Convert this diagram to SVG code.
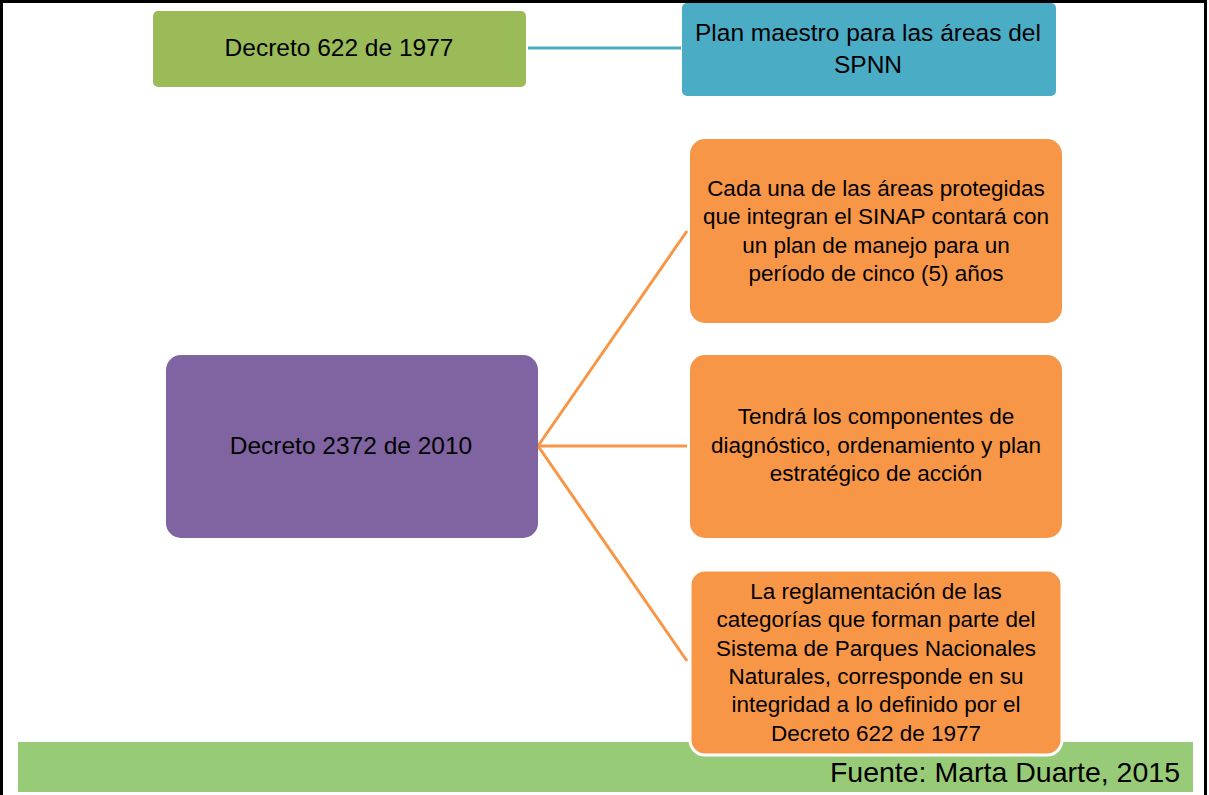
<svg xmlns="http://www.w3.org/2000/svg" width="1209" height="795" viewBox="0 0 1209 795">
<style>
text{font-family:"Liberation Sans",Arial,sans-serif;fill:#000;text-anchor:middle;font-size:22.5px}
.big{font-size:24.5px}
.con{stroke:#F79646;stroke-width:3;fill:none}
.orange{fill:#F79646}
</style>
<rect x="0" y="0" width="1209" height="795" fill="#fff"/>
<rect x="1.5" y="1.5" width="1204" height="800" fill="none" stroke="#000" stroke-width="3"/>
<g id="footer">
<rect x="18" y="742" width="1175" height="50" fill="#98CB77"/>
<text x="1180" y="782" style="text-anchor:end;font-size:28.5px">Fuente: Marta Duarte, 2015</text>
</g>
<g id="connectors">
<line x1="528" y1="48" x2="681" y2="48" stroke="#4BACC6" stroke-width="3"/>
<line class="con" x1="538" y1="446" x2="687" y2="231"/>
<line class="con" x1="538" y1="446" x2="687" y2="446"/>
<line class="con" x1="538" y1="446" x2="687" y2="661"/>
</g>
<g id="n1">
<rect x="153" y="11" width="373" height="76" rx="5" fill="#9BBB59"/>
<text class="big" x="339" y="56">Decreto 622 de 1977</text>
</g>
<g id="n2">
<rect x="682" y="3" width="374" height="93" rx="5" fill="#4BACC6"/>
<text class="big" x="868" y="41">Plan maestro para las áreas del</text>
<text class="big" x="868" y="73">SPNN</text>
</g>
<g id="n3">
<rect x="166" y="355" width="372" height="183" rx="15" fill="#8064A2"/>
<text class="big" x="351" y="454">Decreto 2372 de 2010</text>
</g>
<g id="n4">
<rect class="orange" x="690" y="139" width="372" height="184" rx="15"/>
<text x="876" y="196">Cada una de las áreas protegidas</text>
<text x="876" y="224">que integran el SINAP contará con</text>
<text x="876" y="253">un plan de manejo para un</text>
<text x="876" y="281">período de cinco (5) años</text>
</g>
<g id="n5">
<rect class="orange" x="690" y="355" width="372" height="183" rx="15"/>
<text x="876" y="424">Tendrá los componentes de</text>
<text x="876" y="453">diagnóstico, ordenamiento y plan</text>
<text x="876" y="481">estratégico de acción</text>
</g>
<g id="n6">
<rect class="orange" x="690" y="570" width="372" height="185" rx="15" stroke="#fff" stroke-width="3"/>
<text x="876" y="599">La reglamentación de las</text>
<text x="876" y="627">categorías que forman parte del</text>
<text x="876" y="656">Sistema de Parques Nacionales</text>
<text x="876" y="684">Naturales, corresponde en su</text>
<text x="876" y="712">integridad a lo definido por el</text>
<text x="876" y="741">Decreto 622 de 1977</text>
</g>
</svg>
